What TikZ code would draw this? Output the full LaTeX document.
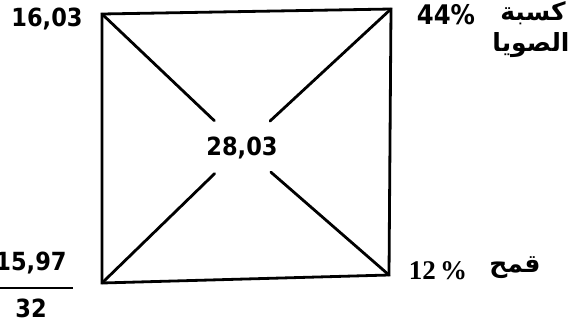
\documentclass[tikz,border=0pt]{standalone}
\usepackage{fontspec}
\setmainfont{DejaVu Sans Condensed}
\newfontfamily\arabicfont[Script=Arabic]{DejaVu Sans}
\newfontfamily\serifnum{Liberation Serif}
\TeXXeTstate=1
\begin{document}
\begin{tikzpicture}[x=1pt,y=-1pt,
  edge/.style={line width=2.8pt,line cap=round,line join=miter},
  num/.style={inner sep=0pt,font=\bfseries\fontsize{25}{28}\selectfont},
  ar/.style={inner sep=0pt,font=\arabicfont\bfseries\fontsize{25}{28}\selectfont}]
\useasboundingbox[fill=white] (0,0) rectangle (581,322);
\coordinate (tl) at (102,14);
\coordinate (tr) at (391,9);
\coordinate (bl) at (102,283);
\coordinate (br) at (389,275);
\node[circle,inner sep=0pt,minimum size=76pt] (c) at (242,147) {};
\node[num] (mid) at (242,148) {28,03};
\draw[edge] (tl) -- (tr) -- (br) -- (bl) -- cycle;
\draw[edge] (tl) -- (c);
\draw[edge] (tr) -- (c);
\draw[edge] (bl) -- (c);
\draw[edge] (br) -- (c);
\node[num] (a) at (47,19) {16,03};
\node[num,font=\bfseries\fontsize{27}{28}\selectfont] (b) at (446,15) {44\%};
\node[ar] (k) at (533,13) {\beginR كسبة\endR};
\node[ar] (s) at (531,45) {\beginR الصويا\endR};
\node[num] (f1) at (31,263) {15,97};
\coordinate (fl) at (0,288);
\coordinate (fr) at (73,288);
\draw[line width=2.2pt] (fl) -- (fr);
\node[num] (f2) at (31,308) {32};
\node[inner sep=0pt,font=\serifnum\bfseries\fontsize{27}{28}\selectfont] (d) at (438,271) {12\,\%};
\node[ar] (q) at (515,268) {\beginR قمح\endR};
\end{tikzpicture}
\end{document}
